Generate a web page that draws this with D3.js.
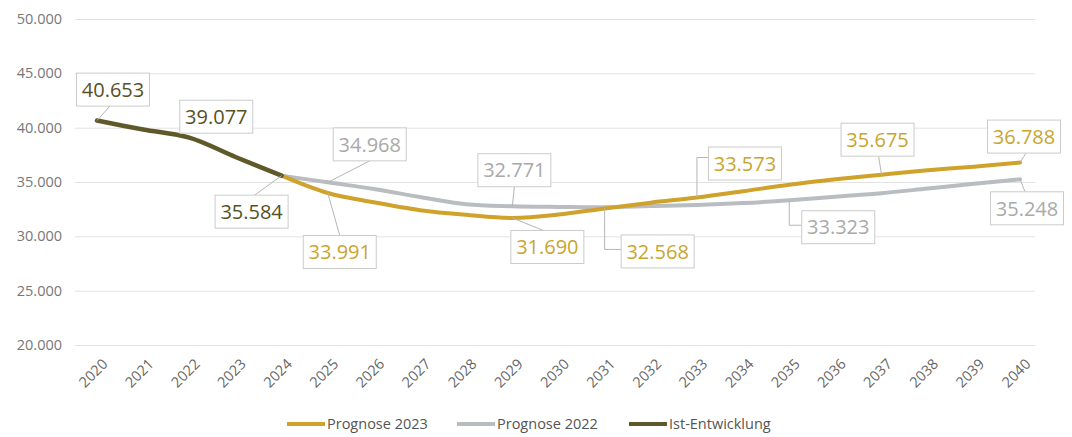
<!DOCTYPE html>
<html><head><meta charset="utf-8">
<script src="https://cdn.jsdelivr.net/npm/d3@7"></script>
<style>
html,body{margin:0;padding:0;background:#fff;}
svg{display:block;font-family:"Open Sans",sans-serif;}
</style></head>
<body><svg id="c" width="1072" height="437"></svg>
<script>
// ---- data ----
const yearLabels = [2020,2021,2022,2023,2024,2025,2026,2027,2028,2029,2030,2031,2032,2033,2034,2035,2036,2037,2038,2039,2040];
const yTicks = [20000,25000,30000,35000,40000,45000,50000];

const istYears = [2020,2021,2022,2023,2024];
const istValues = [40653,39830,39077,37300,35584];

const progYears = [2024,2025,2026,2027,2028,2029,2030,2031,2032,2033,2034,2035,2036,2037,2038,2039,2040];
const prog2023Values = [35584,33991,33130,32410,31980,31690,32000,32568,33100,33573,34150,34750,35250,35675,36080,36410,36788];
const prog2022Values = [35584,34968,34360,33620,32950,32771,32710,32680,32780,32880,33060,33323,33650,33970,34400,34830,35248];

const seriesNames = ["Prognose 2023","Prognose 2022","Ist-Entwicklung"];

// ---- layout / style config ----
const colors = {"Prognose 2023":"#cfa22c","Prognose 2022":"#b9bcc0","Ist-Entwicklung":"#5f592a"};
const textColors = {"Prognose 2023":"#c9a52e","Prognose 2022":"#a9a9a9","Ist-Entwicklung":"#57511f"};

// label placement: box centre offset from point, attach point relative to box centre
const labelLayout = [
  {s:"Ist-Entwicklung", year:2020, dx:16, dy:-31, ax:-3, ay:16.5},
  {s:"Ist-Entwicklung", year:2022, dx:27, dy:-21, ax:null},
  {s:"Ist-Entwicklung", year:2024, dx:-30, dy:36, ax:3, ay:-16.5},
  {s:"Prognose 2022", year:2025, dx:42, dy:-38, ax:0, ay:16.5},
  {s:"Prognose 2023", year:2025, dx:12, dy:59, ax:0, ay:-16.5},
  {s:"Prognose 2022", year:2029, dx:2, dy:-36, ax:0, ay:16.5},
  {s:"Prognose 2023", year:2029, dx:35, dy:29, ax:-4, ay:-16.5},
  {s:"Prognose 2023", year:2031, dx:53, dy:43, ax:-36.5, ay:-2, elbow:true},
  {s:"Prognose 2023", year:2033, dx:48, dy:-34, ax:-36.5, ay:-6, elbow:true},
  {s:"Prognose 2022", year:2035, dx:49, dy:27, ax:-36.5, ay:-2, elbow:true},
  {s:"Prognose 2023", year:2037, dx:-4, dy:-35, ax:1, ay:16.5},
  {s:"Prognose 2023", year:2040, dx:4, dy:-26, ax:2, ay:16.5},
  {s:"Prognose 2022", year:2040, dx:7, dy:29, ax:-2, ay:-16.5}
];

const svg = d3.select("#c");
const x = d3.scaleLinear().domain([2020,2040]).range([97,1020]);
const y = d3.scaleLinear().domain([20000,50000]).range([345,19]);

const fmt = v => d3.format(",")(v).replace(/,/g,".");
const fmtTick = v => d3.format(",.0f")(v).replace(/,/g,".");

// gridlines + y labels
const yAxis = d3.axisLeft(y).tickValues(yTicks).tickSize(-960).tickFormat(fmtTick).tickPadding(13);
const gy = svg.append("g").attr("transform","translate(75,0)").call(yAxis);
gy.select(".domain").remove();
gy.selectAll(".tick line").attr("stroke","#e2e2e2").attr("stroke-width",1);
gy.selectAll(".tick text").attr("fill","#777").style("font-size","14.5px").style("font-family","'Open Sans',sans-serif").attr("x",-13);

// x labels
const xAxis = d3.axisBottom(x).tickValues(yearLabels).tickSize(0).tickFormat(d=>String(d));
const gx = svg.append("g").attr("transform","translate(0,346)").call(xAxis);
gx.select(".domain").remove();
gx.selectAll(".tick text")
  .attr("fill","#666").style("font-size","14.5px").style("font-family","'Open Sans',sans-serif")
  .attr("text-anchor","end").attr("dy",0).attr("y",0)
  .attr("transform","translate(11,19) rotate(-45)");

// lines
const series = {
  "Prognose 2023": progYears.map((yr,i)=>({year:yr,value:prog2023Values[i]})),
  "Prognose 2022": progYears.map((yr,i)=>({year:yr,value:prog2022Values[i]})),
  "Ist-Entwicklung": istYears.map((yr,i)=>({year:yr,value:istValues[i]}))
};
const line = d3.line().x(d=>x(d.year)).y(d=>y(d.value)).curve(d3.curveCatmullRom.alpha(0.5));
["Prognose 2022","Prognose 2023","Ist-Entwicklung"].forEach(n=>{
  svg.append("path").datum(series[n]).attr("d",line)
    .attr("fill","none").attr("stroke",colors[n]).attr("stroke-width",n==="Ist-Entwicklung"?4.5:4)
    .attr("stroke-linecap","round").attr("stroke-linejoin","round");
});

// data labels
const gl = svg.append("g");
labelLayout.forEach(L=>{
  const d = series[L.s].find(p=>p.year===L.year);
  const px = x(d.year), py = y(d.value);
  const cx = px + L.dx, cy = py + L.dy;
  if (L.ax !== null) {
    const tx = cx + L.ax, ty = cy + L.ay;
    let path;
    if (L.elbow) path = `M${px},${py}L${px},${ty}L${tx},${ty}`;
    else path = `M${px},${py}L${tx},${ty}`;
    gl.append("path").attr("d",path).attr("fill","none").attr("stroke","#b5b5b5").attr("stroke-width",1);
  }
  gl.append("rect").attr("x",cx-36.5).attr("y",cy-16.5).attr("width",73).attr("height",33)
    .attr("fill","#fff").attr("stroke","#cbcbcb").attr("stroke-width",1);
  gl.append("text").attr("x",cx).attr("y",cy).attr("dy","0.36em").attr("text-anchor","middle")
    .attr("fill",textColors[L.s]).style("font-size","20px").text(fmt(d.value));
});

// legend
const legendX = [287,457,629];
const lg = svg.append("g");
seriesNames.forEach((n,i)=>{
  lg.append("line").attr("x1",legendX[i]).attr("x2",legendX[i]+38).attr("y1",424).attr("y2",424)
    .attr("stroke",colors[n]).attr("stroke-width",4);
  lg.append("text").attr("x",legendX[i]+40).attr("y",424).attr("dy","0.35em")
    .attr("fill","#555").style("font-size","14.5px").text(n);
});
</script></body></html>
